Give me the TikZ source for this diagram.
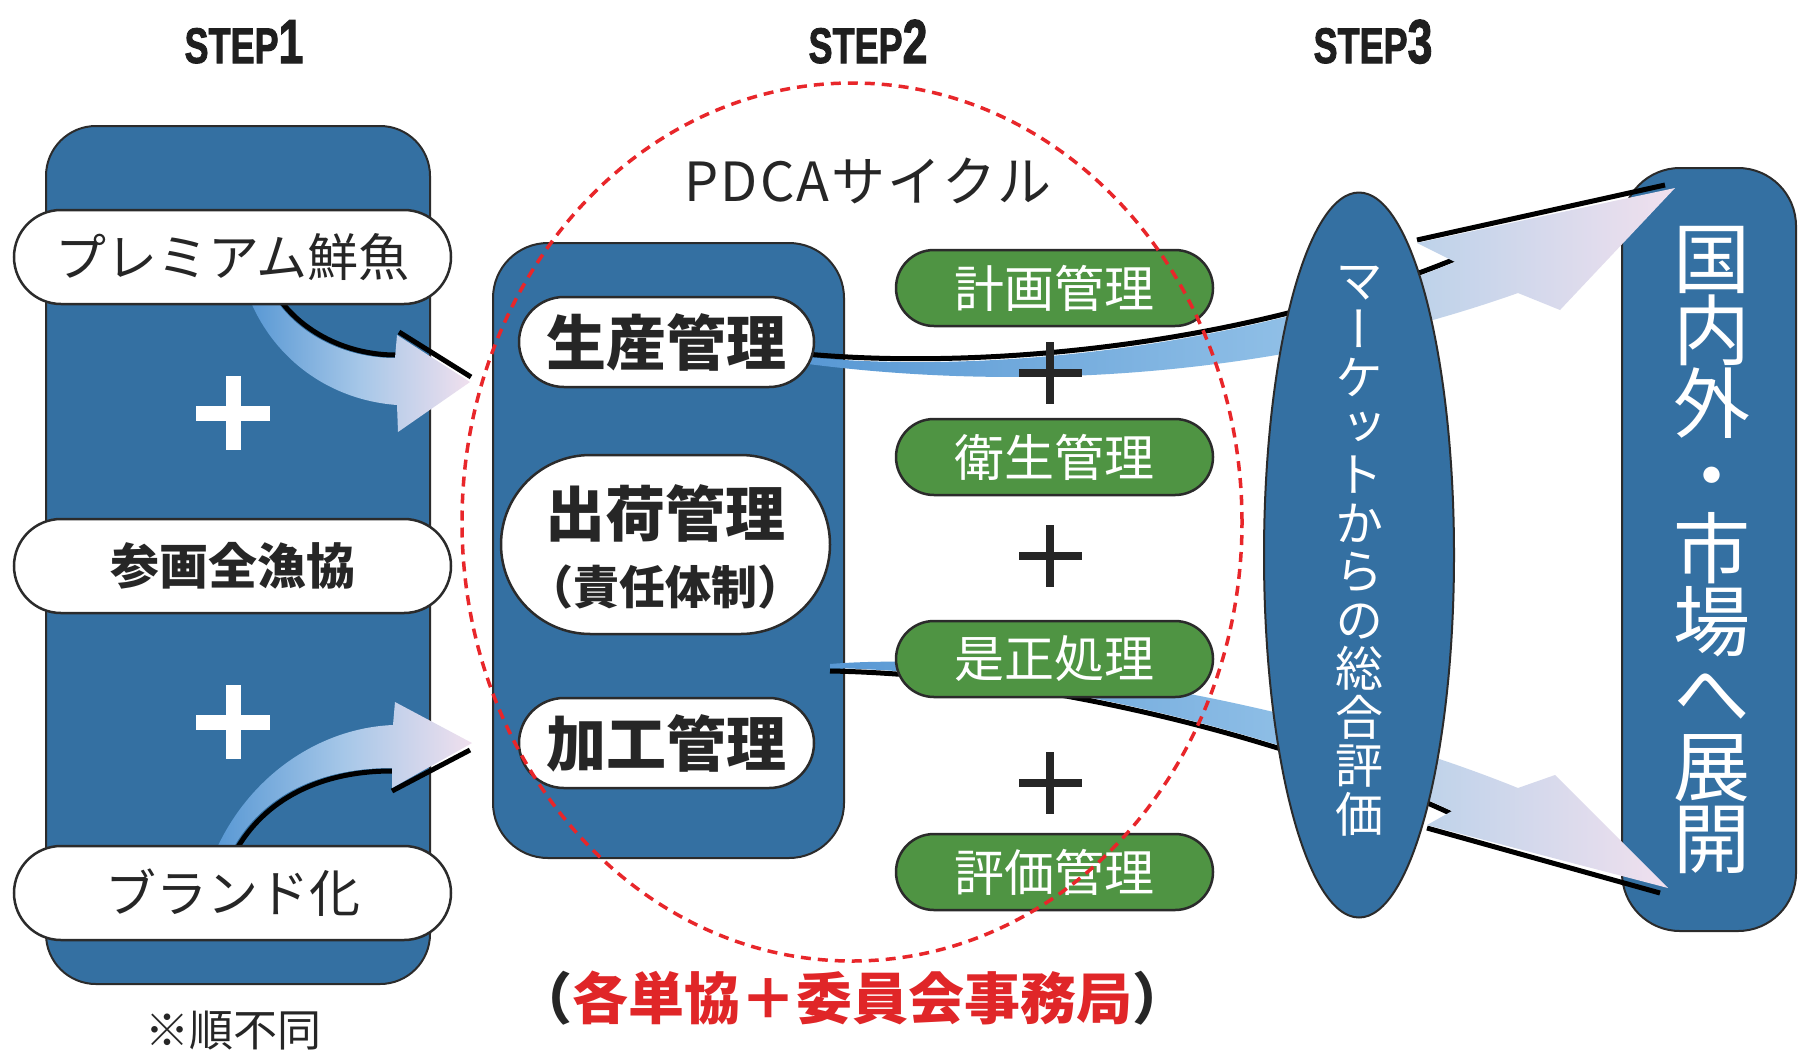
\documentclass[tikz,border=0pt]{standalone}
\usepackage{fontspec}
\usepackage{graphicx}
\usetikzlibrary{shapes.misc,shapes.geometric}
\newfontfamily\jp{Noto Sans CJK JP}
\newfontfamily\jpwide[LetterSpace=4]{Noto Sans CJK JP}
\newfontfamily\jpv[RawFeature=+vert]{Noto Sans CJK JP}
\newfontfamily\stepf[FakeBold=2]{Liberation Sans Bold}
\newcommand\myNoSkip{\lineskiplimit=-100pt\relax}
\definecolor{boxblue}{HTML}{3470A2}
\definecolor{pillgreen}{HTML}{4F9443}
\definecolor{dashred}{HTML}{E8262A}
\definecolor{txtred}{HTML}{E02628}
\definecolor{abl}{HTML}{5898D4}
\definecolor{amid}{HTML}{8EBEE6}
\definecolor{amidA}{HTML}{A6C7E8}
\definecolor{alt}{HTML}{C0D3EA}
\definecolor{apink}{HTML}{F0E0EE}
\definecolor{edgec}{HTML}{2B2B2B}
\pgfdeclarehorizontalshading{arrowshA}{100bp}{color(0bp)=(abl); color(25bp)=(abl); color(50bp)=(amidA); color(75bp)=(apink); color(100bp)=(apink)}
\pgfdeclarehorizontalshading{arrowshC}{100bp}{color(0bp)=(abl); color(25bp)=(abl); color(52bp)=(amid); color(61bp)=(alt); color(75bp)=(apink); color(100bp)=(apink)}
\begin{document}
\begin{tikzpicture}[x=1pt,y=-1pt,
  bigbox/.style={draw=edgec, line width=2pt, fill=boxblue, rounded corners=50pt, inner sep=0pt},
  whitepill/.style={rounded rectangle, draw=edgec, line width=2.5pt, fill=white, minimum width=437pt, minimum height=94pt, inner sep=0pt, text=black!85},
  midpill/.style={rounded rectangle, draw=edgec, line width=2.5pt, fill=white, minimum width=295pt, minimum height=90pt, inner sep=0pt, text=black!85, font=\jp\bfseries\fontsize{60}{60}\selectfont},
  greenpill/.style={rounded rectangle, draw=edgec, line width=2.5pt, fill=pillgreen, minimum width=317pt, minimum height=76pt, inner sep=0pt, text=white, font=\jp\fontsize{50}{50}\selectfont},
  shadowline/.style={black, line width=5pt},
  steplabel/.style={anchor=base, inner sep=0pt, font=\stepf\fontsize{50}{50}\selectfont, text=black!88},
  whiteplus/.style={white, line width=15pt},
  blackplus/.style={black!85, line width=8pt},
]
\fill[white] (0,0) rectangle (1798,1053);
\useasboundingbox (0,0) rectangle (1798,1053);

% STEP labels
\node[steplabel] (s1) at (244,63) {\scalebox{0.72}[1]{STEP\fontsize{62}{62}\selectfont 1}};
\node[steplabel] (s2) at (868,63) {\scalebox{0.72}[1]{STEP\fontsize{62}{62}\selectfont 2}};
\node[steplabel] (s3) at (1373,63) {\scalebox{0.72}[1]{STEP\fontsize{62}{62}\selectfont 3}};

% big boxes
\node[bigbox, minimum width=384pt, minimum height=858pt] (box1) at (238,555) {};
\node[bigbox, minimum width=351pt, minimum height=615pt, rounded corners=55pt] (box2) at (668.5,550.5) {};
\node[bigbox, minimum width=174pt, minimum height=763pt, rounded corners=58pt] (box3) at (1709,549.5) {};

% curved arrow A (premium -> step2)
\draw[shadowline] (278,297) .. controls (302,332) and (347,355) .. (396,355);
\draw[shadowline] (399,332) -- (471,377);
\shade[shading=arrowshA] (276,300) .. controls (300,335) and (345,358) .. (395,358) -- (397,335) -- (470,382) -- (398,432) -- (397,405) .. controls (330,400) and (275,360) .. (250,300) -- cycle;

% curved arrow B (brand -> step2)
\draw[shadowline] (235,852) .. controls (265,798) and (322,771) .. (392,771);
\draw[shadowline] (392,791) -- (470,750);
\shade[shading=arrowshA] (216,850) .. controls (250,775) and (320,728) .. (393,725) -- (395,702) -- (472,743) -- (392,788) -- (392,768) .. controls (320,768) and (262,795) .. (232,850) -- cycle;

% long arrow C (production -> markets)
\draw[shadowline] (806,354) .. controls (980,370) and (1240,347) .. (1455,259);
\draw[shadowline] (1417,240) -- (1665,185);
\shade[shading=arrowshC] (806,357) .. controls (980,374) and (1240,350) .. (1455,262) -- (1417,243) -- (1675,188) -- (1560,310) -- (1518,293) .. controls (1300,370) and (1050,395) .. (808,364) -- cycle;

% long arrow D (correction -> markets)
\draw[shadowline] (1452,814) .. controls (1300,743) and (1050,675) .. (830,671);
\draw[shadowline] (1427,828) -- (1660,893);
\shade[shading=arrowshC] (830,664) .. controls (1000,650) and (1300,700) .. (1518,788) -- (1555,775) -- (1668,888) -- (1427,825) -- (1452,811) .. controls (1300,740) and (1050,672) .. (830,668) -- cycle;

% left pills
\node[whitepill, font=\jp\fontsize{51}{51}\selectfont] (p1) at (232.5,257) {プレミアム鮮魚};
\node[whitepill, font=\jp\bfseries\fontsize{49}{49}\selectfont] (p2) at (232.5,566) {参画全漁協};
\node[whitepill, font=\jp\fontsize{51}{51}\selectfont] (p3) at (232.5,893) {ブランド化};

% white pluses
\draw[whiteplus] (196,413) -- (270,413) (233,376) -- (233,450);
\draw[whiteplus] (196,722) -- (270,722) (233,685) -- (233,759);

% middle pills
\node[midpill] (m1) at (666.5,342) {生産管理};
\node[rounded rectangle, draw=edgec, line width=2.5pt, fill=white, minimum width=329pt, minimum height=179pt, inner sep=0pt] (m2) at (665.5,544.5) {};
\node[inner sep=0pt, text=black!85, font=\jp\bfseries\fontsize{60}{60}\selectfont] (m2a) at (665.5,513) {出荷管理};
\node[inner sep=0pt, text=black!85, font=\jp\bfseries\fontsize{46}{46}\selectfont] (m2b) at (665.5,587) {（責任体制）};
\node[midpill] (m3) at (666.5,743) {加工管理};

% green pills
\node[greenpill] (g1) at (1054.5,288) {計画管理};
\node[greenpill] (g2) at (1054.5,457) {衛生管理};
\node[greenpill] (g3) at (1054.5,659) {是正処理};
\node[greenpill] (g4) at (1054.5,872) {評価管理};

% black pluses
\draw[blackplus] (1019,373) -- (1082,373) (1050,342) -- (1050,404);
\draw[blackplus] (1019,556) -- (1082,556) (1050,525) -- (1050,587);
\draw[blackplus] (1019,783) -- (1082,783) (1050,752) -- (1050,814);

% market ellipse
\node[ellipse, draw=edgec, line width=2pt, fill=boxblue, minimum width=190pt, minimum height=725pt, inner sep=0pt] (market) at (1359,555) {};
\node[inner sep=0pt, align=center, text=white, font=\jpv\fontsize{48}{48.5}\selectfont\myNoSkip] (markettxt) at (1359,551) {マ\\ー\\ケ\\ッ\\ト\\か\\ら\\の\\総\\合\\評\\価};

% right box text
\node[inner sep=0pt, align=center, text=white, font=\jpv\fontsize{77}{72.6}\selectfont\myNoSkip] (box3txt) at (1712,550) {国\\内\\外\\・\\市\\場\\へ\\展\\開};

% PDCA label
\node[inner sep=0pt, text=black!85, font=\jpwide\fontsize{54}{54}\selectfont] (pdca) at (868,181) {PDCAサイクル};

% red dashed cycle
\draw[dashred, line width=3.5pt, dash pattern=on 10pt off 7pt] (852,522) ellipse [x radius=390pt, y radius=439pt];

% bottom texts
\node[inner sep=0pt, font=\jp\bfseries\fontsize{56}{56}\selectfont, text=txtred] (office) at (852,998) {\textcolor{black!85}{（}各単協＋委員会事務局\textcolor{black!85}{）}};
\node[inner sep=0pt, font=\jp\fontsize{44}{44}\selectfont, text=black!85] (note) at (233,1031) {※順不同};
\end{tikzpicture}
\end{document}
